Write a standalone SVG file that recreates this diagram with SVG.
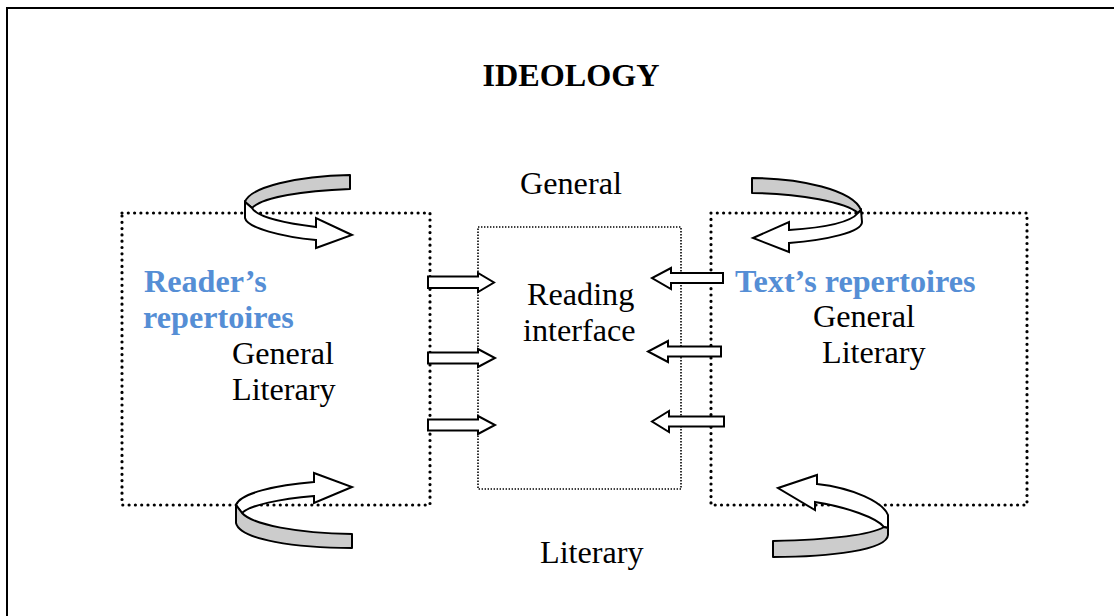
<svg xmlns="http://www.w3.org/2000/svg" width="1114" height="616" viewBox="0 0 1114 616">
<style>
.t{font-family:"Liberation Serif","Times New Roman",serif;font-size:32.2px;fill:#000}
.b{font-weight:bold}
.blue{fill:#558ED5;font-weight:bold}
.big{fill:none;stroke:#000;stroke-width:3.2;stroke-dasharray:0 6.3;stroke-linecap:round}
.small{fill:none;stroke:#000;stroke-width:1.6;stroke-dasharray:1.4 1.6}
.arr{fill:#fff;stroke:#000;stroke-width:2;stroke-linejoin:miter}
.grey{fill:#CCCCCC;stroke:#000;stroke-width:2;stroke-linejoin:round}
.white{fill:#fff;stroke:#000;stroke-width:2;stroke-linejoin:miter}
</style>
<rect width="1114" height="616" fill="#fff"/>
<path d="M7,616 V8 H1114" fill="none" stroke="#000" stroke-width="2"/>

<g id="title"><text class="t b" x="571" y="86" text-anchor="middle">IDEOLOGY</text></g>
<g id="label-general"><text class="t" x="520" y="194">General</text></g>
<g id="label-literary"><text class="t" x="540" y="563">Literary</text></g>

<g id="reader">
<rect class="big" x="122" y="213" width="308" height="292"/>
<text class="t blue" x="144" y="292">Reader’s</text>
<text class="t blue" x="143" y="328">repertoires</text>
<text class="t" x="232" y="364">General</text>
<text class="t" x="232" y="400">Literary</text>
</g>

<g id="interface">
<rect class="small" x="478" y="227" width="203" height="262"/>
<text class="t" x="527" y="305">Reading</text>
<text class="t" x="523" y="341">interface</text>
</g>

<g id="text">
<rect class="big" x="711" y="213" width="316" height="292"/>
<text class="t blue" x="735" y="292">Text’s repertoires</text>
<text class="t" x="813" y="327">General</text>
<text class="t" x="822" y="363">Literary</text>
</g>

<g id="connectors">
<path class="arr" d="M428,276.5 H478 V273 L494,282.5 L478,292 V288 H428 Z"/>
<path class="arr" d="M428,352.5 H478 V349 L495,358 L478,367 V363.5 H428 Z"/>
<path class="arr" d="M428,419.5 H478 V416 L495,425 L478,434 V430.5 H428 Z"/>
<path class="arr" d="M723,273 H671 V268 L652,278 L671,289 V283 H723 Z"/>
<path class="arr" d="M721,346.5 H668 V341 L648,351.5 L668,362 V356.5 H721 Z"/>
<path class="arr" d="M724,416.5 H669 V411 L652,421.5 L669,432 V426.5 H724 Z"/>

<g id="loop-top-left">
<path class="grey" d="M350,175 C297,176 250,187 245,202 L252,208 C263,197 303,191 350,189 Z"/>
<path class="white" d="M245,202 L245,218 C247,228 283,237 316,240 L316,248 L352,235 L316,218 L316,227 C283,223 257,217 252,208 Z"/>
</g>
<g id="loop-top-right">
<path class="grey" d="M752,178 C800,178 853,190 861,210 L858,213 C847,203 800,193 752,193 Z"/>
<path class="white" d="M861,210 L862,222 C862,232 827,240 789,243 L789,252 L753,238 L789,222 L789,230 C820,228 850,223 858,213 Z"/>
</g>
<g id="loop-bottom-left">
<path class="white" d="M236,505 C240,493 277,485 314,482 L314,473 L352,487 L314,503 L314,496 C280,499 250,505 242,513 Z"/>
<path class="grey" d="M236,505 L236,523 C240,540 297,548 352,548 L352,534 C297,533 253,525 242,513 Z"/>
</g>
<g id="loop-bottom-right">
<path class="white" d="M778,488 L817,475 L817,484 C853,488 883,502 888,515 L888,528 L884,527 C877,518 847,507 815,502 L815,510 Z"/>
<path class="grey" d="M884,527 L888,528 L888,535 C887,550 830,557 773,557 L773,541 C813,540 867,537 884,527 Z"/>
</g>
</g>
</svg>
